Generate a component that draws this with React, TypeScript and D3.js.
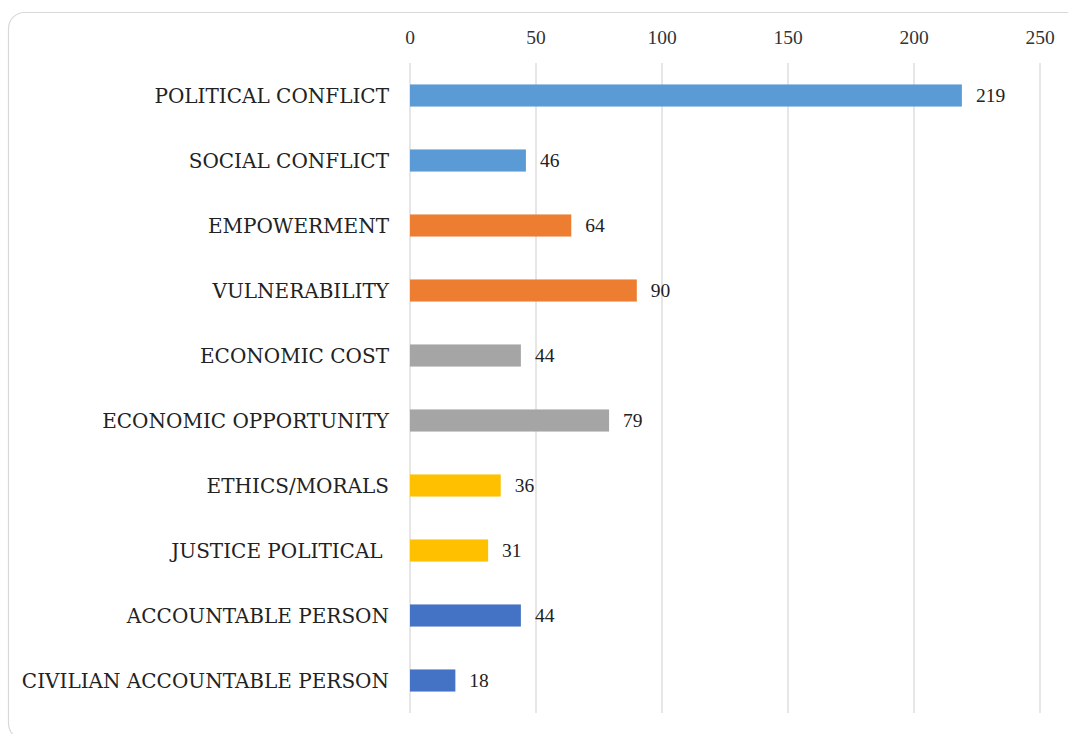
import React from "react";
import * as d3 from "d3";

const categories = [
  "POLITICAL CONFLICT",
  "SOCIAL CONFLICT",
  "EMPOWERMENT",
  "VULNERABILITY",
  "ECONOMIC COST",
  "ECONOMIC OPPORTUNITY",
  "ETHICS/MORALS",
  "JUSTICE POLITICAL ",
  "ACCOUNTABLE PERSON",
  "CIVILIAN ACCOUNTABLE PERSON",
];
const values = [219, 46, 64, 90, 44, 79, 36, 31, 44, 18];
const colors = [
  "#5B9BD5", "#5B9BD5",
  "#ED7D31", "#ED7D31",
  "#A5A5A5", "#A5A5A5",
  "#FFC000", "#FFC000",
  "#4472C4", "#4472C4",
];
const ticks = [0, 50, 100, 150, 200, 250];

const W = 1068;
const H = 734;
const FONT = "'DejaVu Serif', 'Liberation Serif', serif";
const NFONT = "'Liberation Serif', serif";

export default function App() {
  const x = d3.scaleLinear().domain([0, 250]).range([410, 1040]);
  const y = d3.scaleBand().domain(categories).range([63, 713]).paddingInner(0.66).paddingOuter(0.33);
  return (
    <svg width={W} height={H} style={{ position: "absolute", left: 0, top: 0 }}>
      <rect x={0} y={0} width={W} height={H} fill="#fff" />
      <rect x={8.5} y={12.5} width={1100} height={727} rx={16} fill="#fff" stroke="#d9d9d9" strokeWidth={1.2} />
      {ticks.map((t) => (
        <g key={t}>
          <line x1={x(t)} x2={x(t)} y1={63} y2={713} stroke="#d9d9d9" strokeWidth={1.3} />
          <text x={x(t)} y={44} textAnchor="middle" fontFamily={NFONT} fontSize={19.5} fill="#333">
            {t}
          </text>
        </g>
      ))}
      {categories.map((c, i) => {
        const yy = y(c)!;
        const bw = y.bandwidth();
        return (
          <g key={c}>
            <rect x={x(0)} y={yy} width={x(values[i]) - x(0)} height={bw} fill={colors[i]} />
            <text
              x={389}
              y={yy + bw / 2}
              dy="0.35em"
              textAnchor="end"
              fontFamily={FONT}
              fontSize={20}
              fill="#222"
              style={{ whiteSpace: "pre" }}
            >
              {c}
            </text>
            <text x={x(values[i]) + 14} y={yy + bw / 2} dy="0.35em" fontFamily={NFONT} fontSize={19.5} fill="#222">
              {values[i]}
            </text>
          </g>
        );
      })}
    </svg>
  );
}
